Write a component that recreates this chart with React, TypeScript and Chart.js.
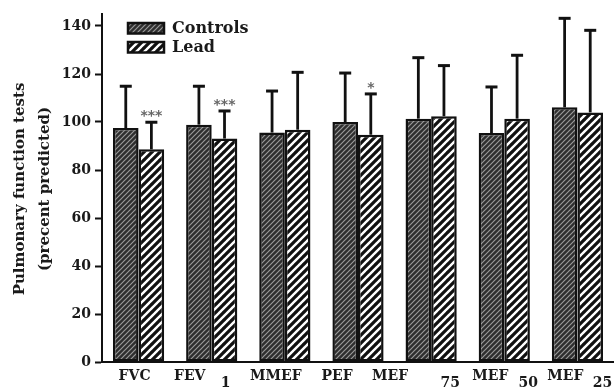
import React, { useEffect, useRef } from "react";
import { Chart, registerables } from "chart.js";

Chart.register(...registerables);

// ---- data ----
const categories = ["FVC", "FEV", "MMEF", "PEF", "MEF", "MEF", "MEF"];
const subscripts = ["", "1", "", "", "75", "50", "25"];
const seriesNames = ["Controls", "Lead"];
const controlsMean = [97.5, 98.9, 95.6, 100.0, 101.4, 95.4, 106.1];
const controlsUpper = [114.9, 114.9, 112.9, 120.4, 126.8, 114.6, 143.2];
const leadMean = [88.6, 93.1, 96.8, 94.7, 102.4, 101.4, 104.0];
const leadUpper = [99.9, 104.6, 120.7, 111.7, 123.5, 127.8, 138.2];
const leadSignificance = ["***", "***", "", "*", "", "", ""];
const yTitleLines = ["Pulmonary function tests", "(precent predicted)"];
const yMin = 0;
const yMax = 145;
const yStep = 20;

// ---- label layout (offsets from category centre, px) ----
const labelShift = [-4, -22, -9, -21, -41, -14, -12];
const subShift = [0, 14, 0, 0, 19, 24, 25];

const SERIF = '"DejaVu Serif", "Liberation Serif", serif';

function makeHatch(bg: string, fg: string, p: number, lw: number) {
  const c = document.createElement("canvas");
  c.width = p;
  c.height = p;
  const g = c.getContext("2d")!;
  g.fillStyle = bg;
  g.fillRect(0, 0, p, p);
  g.strokeStyle = fg;
  g.lineWidth = lw;
  g.beginPath();
  for (const k of [-p, 0, p]) {
    g.moveTo(k - 1, p + 1);
    g.lineTo(k + p + 1, -1);
  }
  g.stroke();
  const tmp = document.createElement("canvas").getContext("2d")!;
  return tmp.createPattern(c, "repeat")!;
}

export default function App() {
  const ref = useRef<HTMLCanvasElement | null>(null);

  useEffect(() => {
    if (!ref.current) return;
    const darkPat = makeHatch("#2e2e2e", "#9a9a9a", 5, 1.2);
    const whitePat = makeHatch("#ffffff", "#111111", 8, 3.2);
    const uppers = [controlsUpper, leadUpper];

    const overlay = {
      id: "overlay",
      afterDatasetsDraw(chart: any) {
        const ctx = chart.ctx;
        const y = chart.scales.y;
        const x = chart.scales.x;
        const area = chart.chartArea;
        ctx.save();
        // error bars
        [0, 1].forEach((di) => {
          const meta = chart.getDatasetMeta(di);
          meta.data.forEach((bar: any, j: number) => {
            const top = y.getPixelForValue(uppers[di][j]);
            ctx.strokeStyle = "#111";
            ctx.lineWidth = 2.8;
            ctx.beginPath();
            ctx.moveTo(bar.x, bar.y);
            ctx.lineTo(bar.x, top);
            ctx.stroke();
            ctx.lineWidth = 3;
            ctx.beginPath();
            ctx.moveTo(bar.x - 6, top);
            ctx.lineTo(bar.x + 6, top);
            ctx.stroke();
            if (di === 1 && leadSignificance[j]) {
              ctx.fillStyle = "#666";
              ctx.font = 'bold 14px "DejaVu Sans", sans-serif';
              ctx.textAlign = "center";
              ctx.textBaseline = "alphabetic";
              ctx.fillText(leadSignificance[j], bar.x, top - 10 + 8);
            }
          });
        });
        // x labels
        ctx.fillStyle = "#1a1a1a";
        ctx.font = "bold 14px " + SERIF;
        ctx.textAlign = "center";
        ctx.textBaseline = "middle";
        categories.forEach((c, i) => {
          const cx = x.getPixelForValue(i);
          ctx.fillText(c, cx + labelShift[i], area.bottom + 14.5);
          if (subscripts[i]) {
            ctx.fillText(subscripts[i], cx + subShift[i], area.bottom + 21.5);
          }
        });
        // y title
        ctx.save();
        ctx.translate(0, (area.top + area.bottom) / 2 + 1);
        ctx.rotate(-Math.PI / 2);
        ctx.font = "bold 15px " + SERIF;
        ctx.textAlign = "center";
        ctx.textBaseline = "middle";
        ctx.fillText(yTitleLines[0], 0, 20);
        ctx.fillText(yTitleLines[1], 0, 45);
        ctx.restore();
        // legend
        const pats = [darkPat, whitePat];
        seriesNames.forEach((name, i) => {
          const lx = area.left + 26;
          const ly = area.top + 9 + i * 19;
          ctx.fillStyle = pats[i];
          ctx.fillRect(lx, ly, 36, 10.5);
          ctx.strokeStyle = "#111";
          ctx.lineWidth = 2.5;
          ctx.strokeRect(lx, ly, 36, 10.5);
          ctx.fillStyle = "#1a1a1a";
          ctx.font = "bold 16px " + SERIF;
          ctx.textAlign = "left";
          ctx.textBaseline = "middle";
          ctx.fillText(name, lx + 44, ly + 6);
        });
        ctx.restore();
      },
    };

    const chart = new Chart(ref.current, {
      type: "bar",
      data: {
        labels: categories,
        datasets: [
          {
            label: seriesNames[0],
            data: controlsMean,
            backgroundColor: darkPat,
            borderColor: "#111",
            borderWidth: 2.5,
            borderSkipped: false,
            categoryPercentage: 0.7,
            barPercentage: 1.0,
          },
          {
            label: seriesNames[1],
            data: leadMean,
            backgroundColor: whitePat,
            borderColor: "#111",
            borderWidth: 2.5,
            borderSkipped: false,
            categoryPercentage: 0.7,
            barPercentage: 1.0,
          },
        ],
      },
      options: {
        responsive: false,
        animation: false,
        layout: { padding: { top: 14, right: 0, left: 0, bottom: 0 } },
        plugins: { legend: { display: false }, tooltip: { enabled: false } },
        scales: {
          x: {
            grid: { display: false },
            border: { display: true, color: "#111", width: 2 },
            ticks: { display: false },
            afterFit: (s: any) => {
              s.height = 26;
            },
          },
          y: {
            min: yMin,
            max: yMax,
            grid: {
              drawOnChartArea: false,
              drawTicks: true,
              tickLength: 7,
              tickWidth: 2,
              tickColor: "#111",
            },
            border: { display: true, color: "#111", width: 2 },
            ticks: {
              stepSize: yStep,
              includeBounds: false,
              padding: 4,
              color: "#1a1a1a",
              font: { family: SERIF, size: 14, weight: "bold" },
            },
            afterFit: (s: any) => {
              s.width = 102;
            },
          },
        },
      },
      plugins: [overlay],
    } as any);
    return () => chart.destroy();
  }, []);

  return (
    <div style={{ position: "fixed", left: 0, top: 0, width: 614, height: 388, background: "#fff" }}>
      <canvas ref={ref} width={614} height={388} />
    </div>
  );
}
